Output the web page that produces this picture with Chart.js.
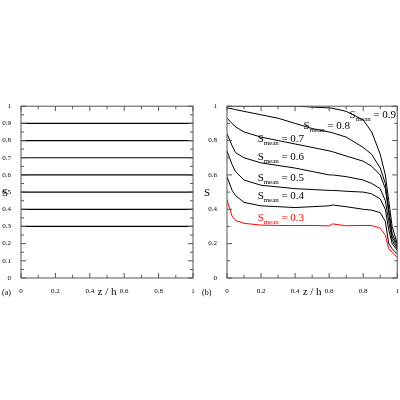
<!DOCTYPE html><html><head><script src="https://cdn.jsdelivr.net/npm/chart.js@4"></script>
<style>body{margin:0;background:#fff}canvas{position:absolute}</style></head><body>
<canvas id="a" style="left:0;top:100px;width:200px;height:200px"></canvas>
<canvas id="b" style="left:200px;top:100px;width:200px;height:200px"></canvas>
<script>
const levelsA=[0.3,0.4,0.5,0.6,0.7,0.8,0.9];
const zB=[0,0.03,0.05,0.1,0.2,0.3,0.4,0.5,0.6,0.62,0.7,0.8,0.85,0.9,0.93,0.95,0.97,1];
const s03=[0.454,0.36,0.335,0.318,0.308,0.306,0.305,0.306,0.303,0.315,0.304,0.306,0.305,0.29,0.25,0.17,0.15,0.12];
const s04=[0.59,0.51,0.48,0.44,0.42,0.415,0.41,0.415,0.42,0.425,0.415,0.40,0.395,0.38,0.33,0.2,0.17,0.14];
const s05=[0.74,0.66,0.62,0.57,0.54,0.53,0.52,0.515,0.51,0.51,0.505,0.50,0.49,0.46,0.4,0.28,0.2,0.16];
const s06=[0.84,0.77,0.73,0.70,0.67,0.655,0.64,0.62,0.60,0.60,0.59,0.57,0.55,0.52,0.45,0.33,0.22,0.17];
const s07=[0.93,0.9,0.88,0.85,0.82,0.80,0.78,0.76,0.74,0.735,0.71,0.68,0.65,0.60,0.52,0.38,0.24,0.18];
const s08=[0.99,0.985,0.98,0.97,0.95,0.93,0.90,0.87,0.85,0.845,0.82,0.76,0.72,0.64,0.55,0.40,0.26,0.19];
const s09=[1.0,1.0,1.0,1.0,1.0,1.0,1.0,0.995,0.99,0.988,0.97,0.92,0.85,0.72,0.6,0.45,0.3,0.2];
const seriesB=[s03,s04,s05,s06,s07,s08,s09];
const meansB=["0.3","0.4","0.5","0.6","0.7","0.8","0.9"];
const labelPosB=[[0.18,0.33],[0.18,0.46],[0.18,0.565],[0.18,0.685],[0.18,0.79],[0.45,0.87],[0.72,0.93]];
const F="'Liberation Serif', serif";
function ticksPlugin(xMaj,xMin,yMaj,yMin,panel,yTitleX){return{id:'tk',afterDraw(c){const g=c.ctx,a=c.chartArea,X=c.scales.x,Y=c.scales.y;g.save();g.strokeStyle='#555';g.lineWidth=1;
g.strokeRect(a.left,a.top,a.right-a.left,a.bottom-a.top);
for(let v=0;v<=1.0001;v+=xMin){const p=X.getPixelForValue(v),L=(Math.abs(v/xMaj-Math.round(v/xMaj))<1e-6)?5:3;g.beginPath();g.moveTo(p,a.bottom);g.lineTo(p,a.bottom-L);g.moveTo(p,a.top);g.lineTo(p,a.top+L);g.stroke();}
for(let v=0;v<=1.0001;v+=yMin){const p=Y.getPixelForValue(v),L=(Math.abs(v/yMaj-Math.round(v/yMaj))<1e-6)?5:3;g.beginPath();g.moveTo(a.left,p);g.lineTo(a.left+L,p);g.moveTo(a.right,p);g.lineTo(a.right-L,p);g.stroke();}
g.fillStyle='#000';g.font='11px '+F;g.textAlign='center';g.fillText('z / h',(a.left+a.right)/2,a.bottom+17);
g.font='8px '+F;g.textAlign='left';g.fillText(panel,2,a.bottom+17);
g.font='11px '+F;g.textAlign='center';g.fillText('S',yTitleX,Y.getPixelForValue(0.5)+4);
if(panel==='(b)'){seriesB.forEach((s,i)=>{const [lx,ly]=labelPosB[i];const x=X.getPixelForValue(lx),y=Y.getPixelForValue(ly);g.fillStyle=i===0?'#f00':'#000';g.textAlign='left';g.font='11px '+F;g.fillText('S',x,y);g.font='7px '+F;g.fillText('mean',x+6,y+3);g.font='11px '+F;g.fillText(' = '+meansB[i],x+21,y);});}
g.restore();}}}
function mk(id,datasets,xMaj,xMin,yMaj,yMin,panel,yW,padR,yTitleX){
new Chart(document.getElementById(id),{type:'line',data:{datasets},options:{responsive:false,animation:false,devicePixelRatio:1,
layout:{padding:{top:6,right:padR,left:0,bottom:0}},plugins:{legend:{display:false},tooltip:{enabled:false}},
elements:{point:{radius:0},line:{borderWidth:1,tension:0}},
scales:{x:{type:'linear',min:0,max:1,afterFit:s=>{s.height=22},grid:{display:false},border:{display:false},ticks:{stepSize:xMaj,font:{family:F,size:7},color:'#000',padding:1,maxRotation:0,callback:v=>+v.toFixed(1)+''}},
y:{min:0,max:1,afterFit:s=>{s.width=yW},grid:{display:false},border:{display:false},ticks:{stepSize:yMaj,font:{family:F,size:7},color:'#000',padding:2,callback:v=>+v.toFixed(1)+''}}}},
plugins:[ticksPlugin(xMaj,xMin,yMaj,yMin,panel,yTitleX)]});}
const dsA=levelsA.map(l=>({data:[{x:0,y:l},{x:1,y:l}],borderColor:'#000',borderWidth:1.2}));
mk('a',dsA,0.2,0.1,0.1,0.05,'(a)',21,7,5);
const dsB=seriesB.map((s,i)=>({data:zB.map((z,j)=>({x:z,y:s[j]})),borderColor:i===0?'#f00':'#000'}));
mk('b',dsB,0.2,0.1,0.2,0.1,'(b)',27,1,7);
</script></body></html>
